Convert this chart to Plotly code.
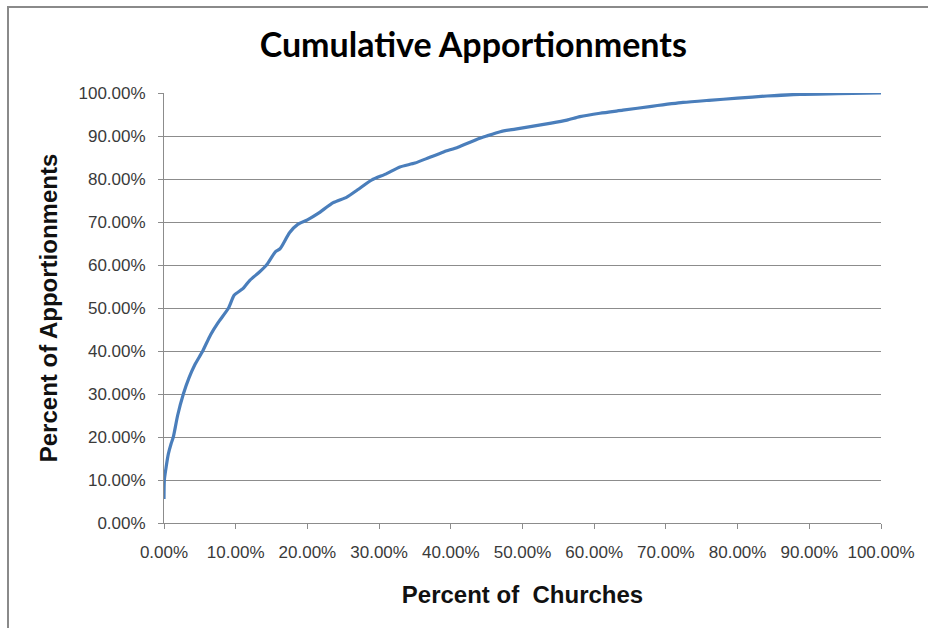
import plotly.graph_objects as go

# Cumulative share of churches (x, %) against cumulative share of apportionments (y, %)
pct_churches = [0.0, 0.05, 0.3, 0.6, 1.0, 1.3, 1.9, 2.7, 3.5, 4.3, 5.4, 6.5, 7.5, 9.0, 9.8,
                11.0, 12.0, 13.2, 14.3, 15.5, 16.2, 17.5, 18.7, 20.0, 21.5, 23.6, 25.5, 27.0,
                29.0, 31.0, 32.9, 35.0, 37.0, 39.0, 41.0, 43.6, 45.0, 46.9, 49.0, 51.5,
                54.0, 56.2, 58.0, 60.8, 64.0, 68.0, 72.4, 76.0, 80.0, 84.1, 88.7, 94.0, 100.0]
pct_apportionments = [5.6, 10.0, 13.0, 16.0, 18.5, 20.0, 25.0, 30.0, 33.8, 36.8, 40.0, 43.8,
                      46.5, 50.0, 53.0, 54.5, 56.5, 58.2, 60.0, 63.0, 63.8, 67.5, 69.5, 70.5,
                      72.0, 74.5, 75.8, 77.5, 79.8, 81.2, 82.8, 83.7, 85.0, 86.3, 87.4, 89.2,
                      90.0, 91.0, 91.6, 92.3, 93.0, 93.7, 94.5, 95.3, 96.0, 96.9, 97.8, 98.3,
                      98.8, 99.3, 99.7, 99.85, 100.0]

tick_vals = list(range(0, 101, 10))
tick_text = [f"{v:.2f}%" for v in tick_vals]

fig = go.Figure()
fig.add_trace(go.Scatter(
    x=pct_churches, y=pct_apportionments, mode="lines",
    line=dict(color="#4a7ebb", width=3.2, shape="spline", smoothing=0.6),
    showlegend=False,
))

axis_common = dict(
    range=[0, 100], tickvals=tick_vals, ticktext=tick_text,
    showline=True, linecolor="#8c8c8c", linewidth=1,
    ticks="outside", ticklen=5, tickcolor="#8c8c8c",
    ticklabelstandoff=9,
    tickfont=dict(family="Liberation Sans, Arial, sans-serif", size=17, color="#3a3a3a"),
    zeroline=False,
)
title_font = dict(family="Liberation Sans, Arial, sans-serif", size=24,
                  color="#111111", weight="bold")

fig.update_xaxes(**axis_common, showgrid=False,
                 title=dict(text="Percent of  Churches", standoff=24, font=title_font))
fig.update_yaxes(**axis_common, showgrid=True, gridcolor="#8c8c8c", gridwidth=1,
                 title=dict(text="Percent of Apportionments", standoff=14, font=title_font))

fig.update_layout(
    width=928, height=628,
    margin=dict(l=164, r=47, t=93, b=105),
    paper_bgcolor="white", plot_bgcolor="white",
    title=dict(text="<b>Cumulative Apportionments</b>", x=0.51, xanchor="center",
               y=0.928, yanchor="middle",
               font=dict(family="Lato, Open Sans, sans-serif", size=34, color="#000000")),
    shapes=[dict(type="rect", xref="paper", yref="paper",
                 x0=(8 - 164) / 717, x1=1.2, y0=-0.4, y1=(522.5 - 7) / 429.5,
                 line=dict(color="#8a8a8a", width=2), layer="below")],
)

fig.write_html("out.html")
